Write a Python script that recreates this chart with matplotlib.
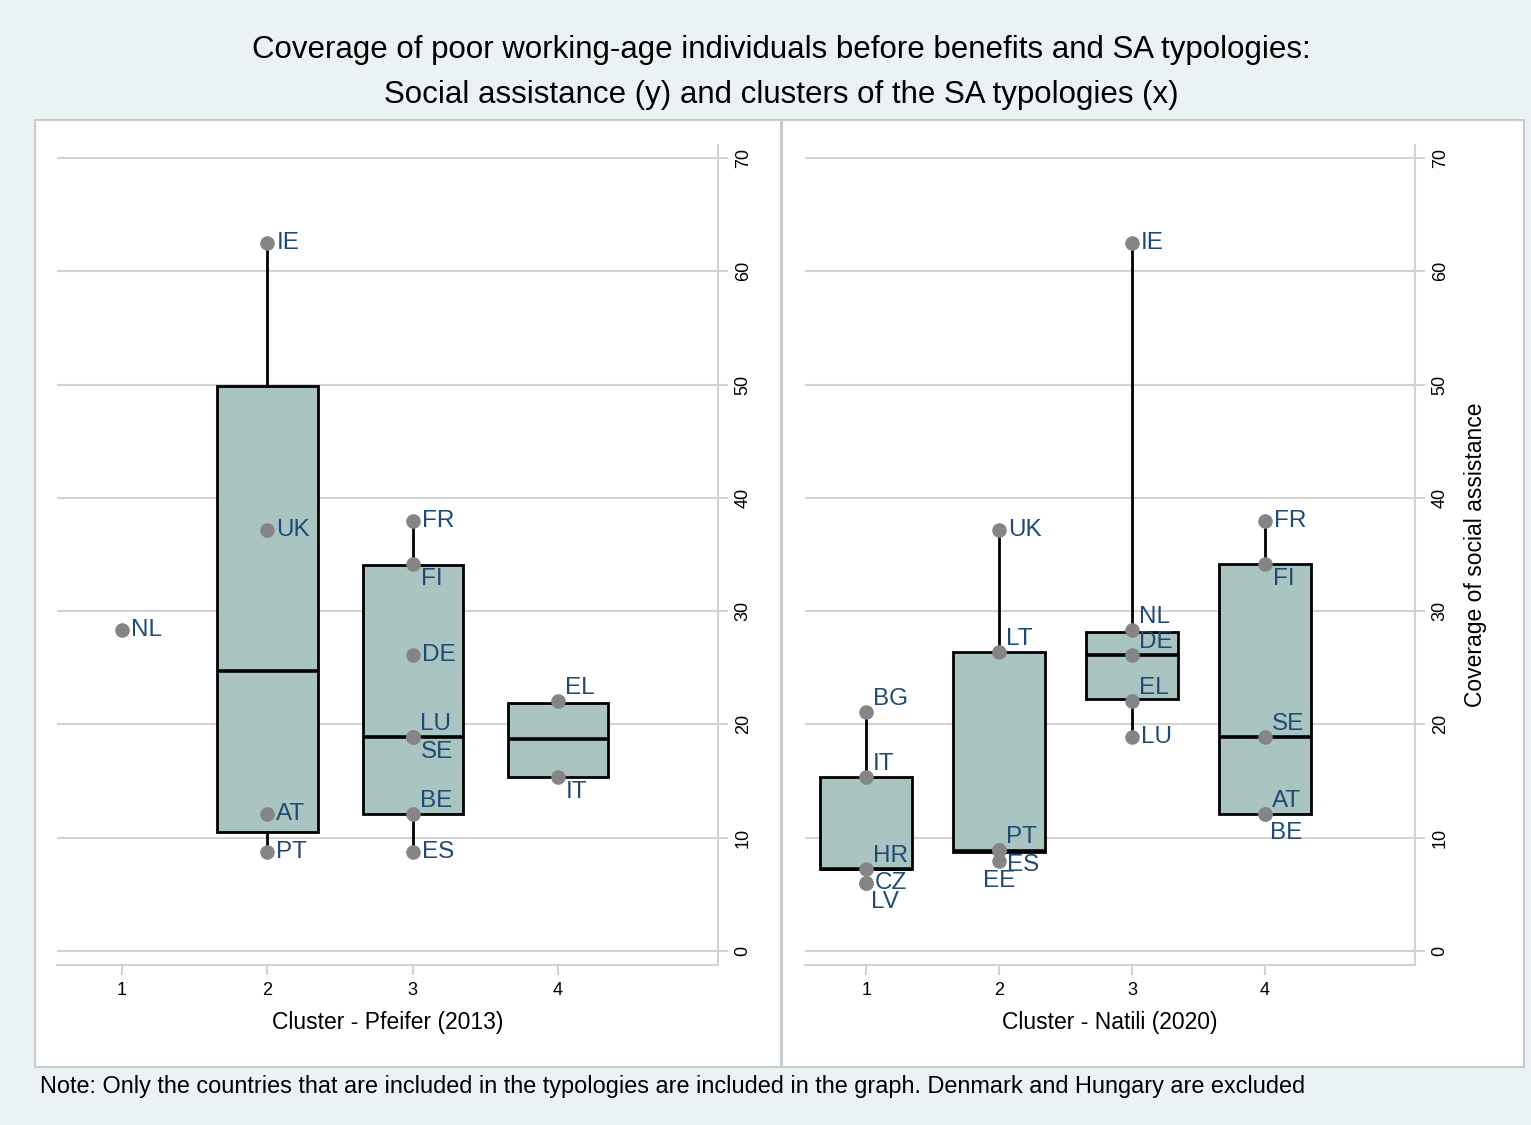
import matplotlib
matplotlib.use("Agg")
import matplotlib.pyplot as plt
from matplotlib.patches import Rectangle

plt.rcParams['font.family'] = ['Liberation Sans', 'DejaVu Sans']

# Pfeifer (2013) clusters
pf_country = ["NL", "IE", "UK", "AT", "PT", "FR", "FI", "DE", "LU", "SE", "BE", "ES", "EL", "IT"]
pf_cluster = [1, 2, 2, 2, 2, 3, 3, 3, 3, 3, 3, 3, 4, 4]
pf_value = [28.3, 62.5, 37.2, 12.1, 8.7, 38.0, 34.2, 26.1, 18.9, 18.9, 12.1, 8.7, 22.1, 15.4]
pf_labpos = ["r", "r", "r", "r", "r", "r", "lr", "r", "ur", "lr", "ur", "r", "ur", "lr"]

# box statistics per cluster (cluster 1 has a single country, no box)
pf_box_pos = [2, 3, 4]
pf_q1 = [10.5, 12.1, 15.4]
pf_med = [24.7, 18.9, 18.7]
pf_q3 = [49.9, 34.1, 21.9]
pf_lo = [8.7, 8.7, 15.4]
pf_hi = [62.5, 38.0, 21.9]

# Natili (2020) clusters
na_country = ["BG", "IT", "HR", "CZ", "LV", "UK", "LT", "PT", "ES", "EE",
              "IE", "NL", "DE", "EL", "LU", "FR", "FI", "SE", "AT", "BE"]
na_cluster = [1, 1, 1, 1, 1, 2, 2, 2, 2, 2, 3, 3, 3, 3, 3, 4, 4, 4, 4, 4]
na_value = [21.1, 15.4, 7.2, 6.0, 6.0, 37.2, 26.4, 8.9, 8.9, 7.9,
            62.5, 28.3, 26.1, 22.1, 18.9, 38.0, 34.2, 18.9, 12.1, 12.1]
na_labpos = ["ur", "ur", "ur", "r", "lb", "r", "ur", "ur", "lr", "b",
             "r", "ur", "ur", "ur", "r", "r", "lr", "ur", "ur", "lb"]

na_box_pos = [1, 2, 3, 4]
na_q1 = [7.2, 8.7, 22.2, 12.1]
na_med = [7.2, 8.8, 26.1, 18.9]
na_q3 = [15.4, 26.4, 28.2, 34.2]
na_lo = [6.0, 7.9, 18.9, 12.1]
na_hi = [21.1, 37.2, 62.5, 38.0]

yticks = [0, 10, 20, 30, 40, 50, 60, 70]

BG = "#EAF2F3"
BOXFILL = "#A9C4C1"
GRID = "#D3D3D3"
LABEL = "#1F4A73"
POINT = "#858585"

# label placement: (dx px, dy px, ha)
OFFS = {"r": (9, 0, "left"), "ur": (7, 13, "left"), "lr": (8, -15, "left"),
        "b": (0, -20, "center"), "lb": (5, -19, "left")}

W, H = 1531, 1125
fig = plt.figure(figsize=(W / 100, H / 100), dpi=100, facecolor=BG)

# white panel regions
for x0, x1 in [(35, 781), (782, 1524)]:
    fig.patches.append(Rectangle((x0 / W, 1 - 1067 / H), (x1 - x0) / W, (1067 - 120) / H,
                                 transform=fig.transFigure, facecolor="white",
                                 edgecolor="#C9CCCC", lw=1.5, zorder=-5))


def panel(rect, xlim, country, cluster, value, labpos, bpos, q1, med, q3, lo, hi, xlabel, ylabel=None):
    ax = fig.add_axes(rect)
    ax.set_zorder(2)
    ax.set_facecolor("white")
    stats = []
    for i in range(len(bpos)):
        stats.append(dict(med=med[i], q1=q1[i], q3=q3[i], whislo=lo[i], whishi=hi[i], fliers=[]))
    ax.bxp(stats, positions=bpos, widths=0.69, patch_artist=True, showcaps=False,
           showfliers=False,
           boxprops=dict(facecolor=BOXFILL, edgecolor="black", lw=2),
           medianprops=dict(color="black", lw=2.6),
           whiskerprops=dict(color="black", lw=2), zorder=2)
    ax.scatter(cluster, value, s=110, color=POINT, zorder=4, linewidths=0)
    for c, x, y, p in zip(country, cluster, value, labpos):
        dx, dy, ha = OFFS[p]
        ax.annotate(c, (x, y), xytext=(dx, dy), textcoords="offset pixels",
                    ha=ha, va="center", fontsize=17.5, color=LABEL, zorder=5)
    ax.set_xlim(*xlim)
    ax.set_ylim(-1.24, 71.15)
    ax.set_xticks([1, 2, 3, 4])
    ax.set_xticklabels(["1", "2", "3", "4"])
    ax.set_yticks(yticks)
    ax.set_yticklabels([str(t) for t in yticks], rotation=90, va="center")
    ax.yaxis.tick_right()
    ax.yaxis.set_label_position("right")
    ax.grid(axis="y", color=GRID, lw=1.5)
    ax.set_axisbelow(True)
    for s in ["left", "top"]:
        ax.spines[s].set_visible(False)
    for s in ["right", "bottom"]:
        ax.spines[s].set_color(GRID)
        ax.spines[s].set_linewidth(1.5)
    ax.tick_params(axis="both", color=GRID, width=1.5, length=7, labelsize=13)
    ax.tick_params(axis="y", pad=5)
    ax.tick_params(axis="x", pad=5)
    ax.set_xlabel(xlabel, fontsize=16.5, labelpad=9)
    if ylabel:
        ax.set_ylabel(ylabel, fontsize=16.5, labelpad=11)
    return ax


panel([57 / W, 1 - 965 / H, 661 / W, 820 / H], (0.553, 5.10),
      pf_country, pf_cluster, pf_value, pf_labpos,
      pf_box_pos, pf_q1, pf_med, pf_q3, pf_lo, pf_hi, "Cluster - Pfeifer (2013)")
panel([805 / W, 1 - 965 / H, 610 / W, 820 / H], (0.54, 5.13),
      na_country, na_cluster, na_value, na_labpos,
      na_box_pos, na_q1, na_med, na_q3, na_lo, na_hi, "Cluster - Natili (2020)",
      ylabel="Coverage of social assistance")

fig.text(781 / W, 1 - 50 / H, "Coverage of poor working-age individuals before benefits and SA typologies:",
         ha="center", va="center", fontsize=22.5)
fig.text(781 / W, 1 - 95 / H, "Social assistance (y) and clusters of the SA typologies (x)",
         ha="center", va="center", fontsize=22.5)
fig.text(40 / W, 1 - 1086 / H,
         "Note: Only the countries that are included in the typologies are included in the graph. Denmark and Hungary are excluded",
         ha="left", va="center", fontsize=16.9)

fig.savefig("out.png", dpi=100, facecolor=BG)
